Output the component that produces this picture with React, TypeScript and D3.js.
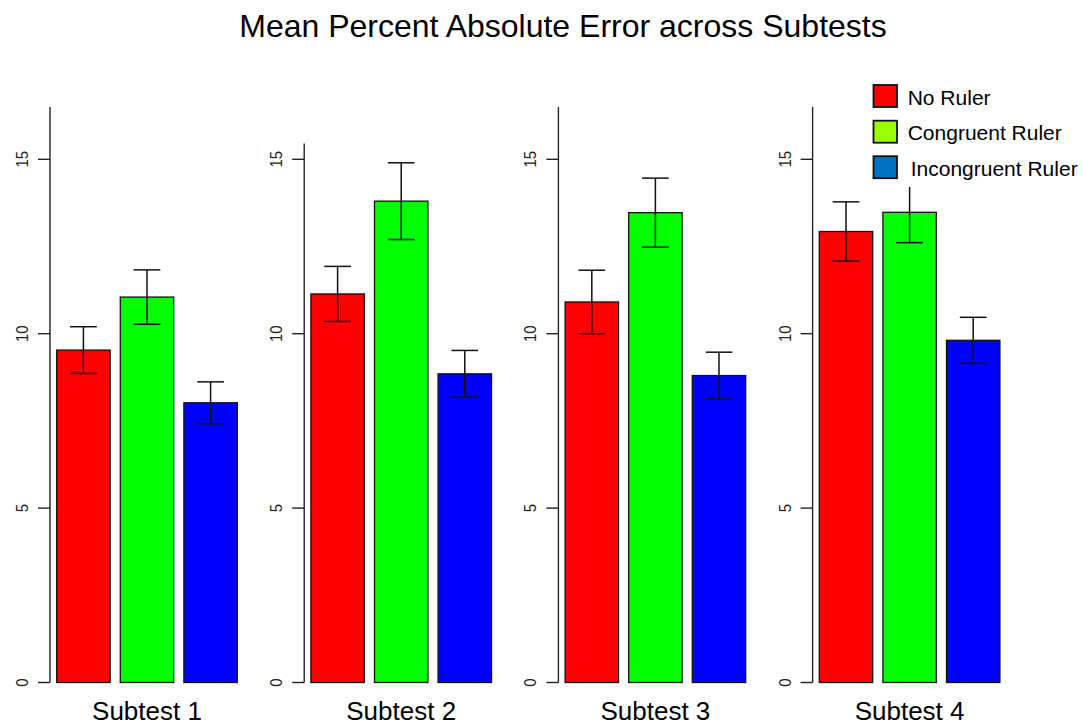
import React from "react";
import * as d3 from "d3";

const subtests = ["Subtest 1", "Subtest 2", "Subtest 3", "Subtest 4"];
const conditions = ["No Ruler", "Congruent Ruler", "Incongruent Ruler"];
const noRulerMean = [9.53, 11.14, 10.91, 12.93];
const noRulerSE = [0.67, 0.79, 0.91, 0.85];
const congruentMean = [11.05, 13.8, 13.47, 13.48];
const congruentSE = [0.78, 1.1, 0.99, 0.87];
const incongruentMean = [8.02, 8.85, 8.8, 9.81];
const incongruentSE = [0.6, 0.67, 0.67, 0.66];
const yTicks = [0, 5, 10, 15];
const axisMax = [16.5, 15.45, 16.5, 16.5];

const barColors = ["#FF0000", "#00FF00", "#0000FF"];
const legendColors = ["#FF0000", "#99FF00", "#0070C0"];

const W = 1083;
const H = 725;
const FONT = "'Liberation Sans', Arial, Helvetica, sans-serif";

export default function App() {
  const means = [noRulerMean, congruentMean, incongruentMean];
  const ses = [noRulerSE, congruentSE, incongruentSE];

  const panelX = d3.scaleBand<string>().domain(subtests).range([50, 50 + 4 * 254.2]).paddingInner(0);
  const y = d3.scaleLinear().domain([0, 15]).range([682.5, 159.3]);

  return (
    <svg width={W} height={H} style={{ position: "absolute", left: 0, top: 0, background: "#fff" }} fontFamily={FONT}>
      <rect x={0} y={0} width={W} height={H} fill="#fff" />
      <text x={563} y={37} textAnchor="middle" fontSize={32} fill="#000">
        Mean Percent Absolute Error across Subtests
      </text>
      {subtests.map((s, i) => {
        const ax = panelX(s)!;
        const bx = d3.scaleBand<string>().domain(conditions).range([ax + 6.7, ax + 187.3]).paddingInner(0.16).paddingOuter(0);
        const bw = bx.bandwidth();
        return (
          <g key={s}>
            <line x1={ax} x2={ax} y1={y(0)} y2={y(axisMax[i])} stroke="#222" strokeWidth={1.4} />
            {yTicks.map((t) => (
              <g key={t}>
                <line x1={ax - 12} x2={ax} y1={y(t)} y2={y(t)} stroke="#222" strokeWidth={1.4} />
                <text
                  transform={`translate(${ax - 22},${y(t)}) rotate(-90) scale(0.88,1)`}
                  textAnchor="middle"
                  fontSize={17}
                  fill="#222"
                >
                  {t}
                </text>
              </g>
            ))}
            {conditions.map((c, k) => {
              const m = means[k][i];
              const se = ses[k][i];
              const x0 = bx(c)!;
              const cx = x0 + bw / 2;
              return (
                <g key={c}>
                  <rect x={x0} y={y(m)} width={bw} height={y(0) - y(m)} fill={barColors[k]} stroke="#111" strokeWidth={1.3} />
                  <line x1={cx} x2={cx} y1={y(m + se)} y2={y(m - se)} stroke="#111" strokeWidth={1.5} />
                  <line x1={cx - bw / 4} x2={cx + bw / 4} y1={y(m + se)} y2={y(m + se)} stroke="#111" strokeWidth={1.5} />
                  <line x1={cx - bw / 4} x2={cx + bw / 4} y1={y(m - se)} y2={y(m - se)} stroke="#111" strokeWidth={1.5} />
                </g>
              );
            })}
            <text x={ax + 97} y={720} textAnchor="middle" fontSize={26} fill="#000">
              {s}
            </text>
          </g>
        );
      })}
      <g>
        <rect x={866} y={78} width={217} height={109} fill="#fff" />
        {conditions.map((c, k) => {
          const by = [85, 120.7, 156.2][k];
          const tx = k === 2 ? 910.7 : 907.7;
          return (
            <g key={c}>
              <rect x={873.5} y={by} width={23.5} height={22} fill={legendColors[k]} stroke="#111" strokeWidth={1.8} />
              <text x={tx} y={by + 19.5} fontSize={21} fill="#000">
                {c}
              </text>
            </g>
          );
        })}
      </g>
    </svg>
  );
}
